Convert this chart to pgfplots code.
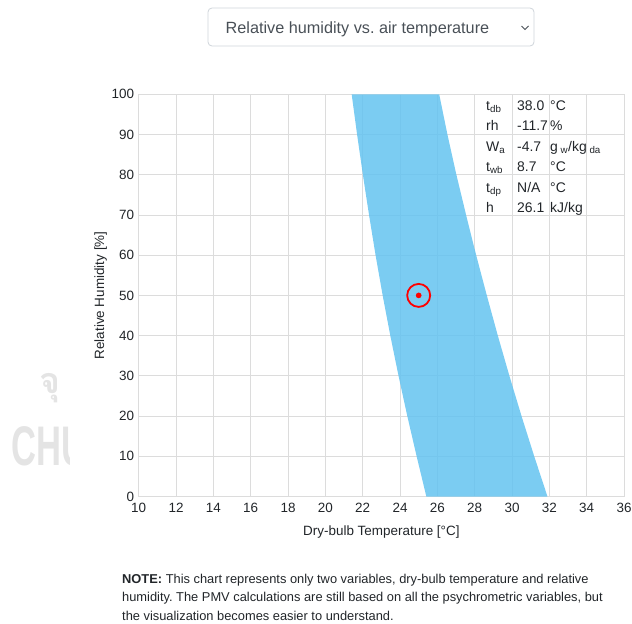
\documentclass[border=0pt]{standalone}
\usepackage{pgfplots}
\pgfplotsset{compat=1.18}
\usepackage{fontspec}
\setmainfont{Liberation Sans}
\newfontfamily\thaifont[Script=Thai]{Loma}
\frenchspacing
\definecolor{band}{RGB}{100,195,240}
\definecolor{gridc}{RGB}{220,220,220}
\definecolor{txt}{RGB}{33,37,41}
\definecolor{selt}{RGB}{73,80,87}
\definecolor{selb}{RGB}{206,212,218}
\definecolor{wm}{RGB}{228,228,228}
\pgfplotstableread{
x y
25.41 0
24.89 10
24.39 20
23.92 30
23.48 40
23.07 50
22.69 60
22.34 70
22.01 80
21.70 90
21.41 100
26.10 100
26.54 90
27.02 80
27.54 70
28.08 60
28.65 50
29.24 40
29.86 30
30.51 20
31.19 10
31.90 0
}\bandtable
\begin{document}
\begin{tikzpicture}
\path[use as bounding box] (0,0) rectangle (632bp,-624bp);
% watermark
\node[text=wm, font=\thaifont\fontsize{36}{36}\selectfont\bfseries] at (50bp,-388bp) {จุ};
\begin{scope}
\clip (0,-400bp) rectangle (69bp,-480bp);
\node[anchor=base west, text=wm, font=\fontsize{56}{56}\selectfont\bfseries, xscale=0.62, inner sep=0] at (11bp,-465bp) {CHU};
\end{scope}
% dropdown
\draw[selb, rounded corners=4bp, line width=0.8bp] (208bp,-8bp) rectangle (534bp,-46bp);
\node[anchor=base west, text=selt, font=\fontsize{16.3}{18}\selectfont, inner sep=0] at (225.5bp,-33bp) {Relative humidity vs. air temperature};
\draw[selt, line width=0.8bp] (521.5bp,-26bp) -- (525bp,-29.5bp) -- (528.5bp,-26bp);
\begin{axis}[
  at={(138.7bp,-496.5bp)}, anchor=south west,
  width=485.3bp, height=402.2bp, scale only axis,
  xmin=10, xmax=36, ymin=0, ymax=100,
  xtick={10,12,...,36}, ytick={0,10,...,100},
  grid=major, grid style={gridc, line width=0.8bp},
  axis line style={gridc, line width=0.8bp},
  major tick length=0,
  tick label style={text=txt, font=\fontsize{13.5}{15}\selectfont},
  /pgf/number format/assume math mode=true,
  xticklabel style={yshift=-3bp},
  yticklabel style={xshift=-1bp},
  xlabel={Dry-bulb Temperature [°C]},
  ylabel={Relative Humidity [\%]},
  label style={text=txt, font=\fontsize{13.5}{15}\selectfont},
  xlabel style={yshift=-6bp},
  ylabel style={yshift=-2bp},
]
\addplot[fill=band, fill opacity=0.85, draw=none] table[x=x,y=y] {\bandtable} -- cycle;
\addplot[only marks, mark=*, mark size=2.6bp, color=red] coordinates {(25,50)};
\addplot[only marks, mark=o, mark size=11.5bp, mark options={line width=1.8bp}, color=red] coordinates {(25,50)};
\end{axis}
% info table
\begin{scope}[every node/.style={anchor=base west, inner sep=0, text=txt, font=\fontsize{14}{16}\selectfont}]
\node at (486bp,-110bp) {t\textsubscript{db}};
\node at (517bp,-110bp) {38.0};
\node at (550bp,-110bp) {°C};
\node at (486bp,-130.5bp) {rh};
\node at (517bp,-130.5bp) {-11.7};
\node at (550bp,-130.5bp) {\%};
\node at (486bp,-151bp) {W\textsubscript{a}};
\node at (517bp,-151bp) {-4.7};
\node at (550bp,-151bp) {g\textsubscript{ w}/kg\textsubscript{ da}};
\node at (486bp,-171.5bp) {t\textsubscript{wb}};
\node at (517bp,-171.5bp) {8.7};
\node at (550bp,-171.5bp) {°C};
\node at (486bp,-192bp) {t\textsubscript{dp}};
\node at (517bp,-192bp) {N/A};
\node at (550bp,-192bp) {°C};
\node at (486bp,-212bp) {h};
\node at (517bp,-212bp) {26.1};
\node at (550bp,-212bp) {kJ/kg};
\end{scope}
% note
\begin{scope}[every node/.style={anchor=base west, inner sep=0, text=txt, font=\fontsize{12.9}{14}\selectfont}]
\node at (122bp,-583bp) {\textbf{NOTE:} This chart represents only two variables, dry-bulb temperature and relative};
\node at (122bp,-601.5bp) {humidity. The PMV calculations are still based on all the psychrometric variables, but};
\node at (122bp,-620bp) {the visualization becomes easier to understand.};
\end{scope}
\end{tikzpicture}
\end{document}
